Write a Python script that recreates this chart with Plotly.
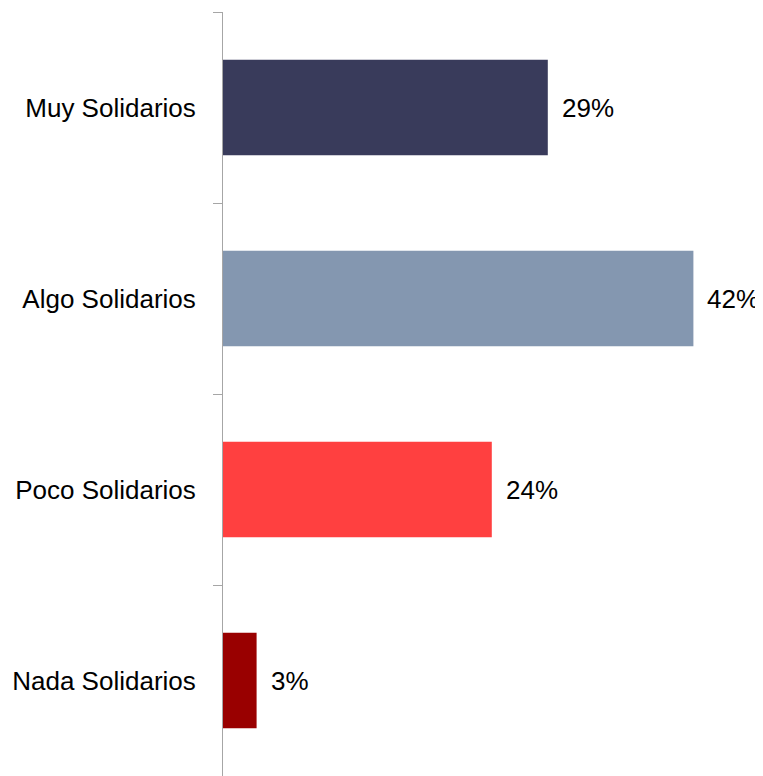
import plotly.graph_objects as go

categories = ["Muy Solidarios", "Algo Solidarios", "Poco Solidarios", "Nada Solidarios"]
values = [29, 42, 24, 3]
labels = ["29%", "42%", "24%", "3%"]
colors = ["#393B5B", "#8497B0", "#FF4040", "#990000"]

FONT = "Liberation Sans Narrow, Arial Narrow, Liberation Sans, Arial, sans-serif"
SIZE = 26

fig = go.Figure()
fig.add_trace(go.Bar(
    y=categories, x=values, orientation="h",
    marker=dict(color=colors, line=dict(width=0)),
    width=0.5, showlegend=False, hoverinfo="skip",
))
for c, v, t in zip(categories, values, labels):
    fig.add_annotation(x=v, y=c, text=t, showarrow=False, xanchor="left",
                       xshift=12, font=dict(family=FONT, size=SIZE, color="#000000"))

# page body has an 8px default margin, so the figure is sized to compensate
fig.update_layout(
    width=755, height=768,
    margin=dict(l=215, r=0, t=4, b=0),
    paper_bgcolor="white", plot_bgcolor="white",
    font=dict(family=FONT, size=SIZE, color="#000000"),
    bargap=0.5,
)
fig.update_xaxes(range=[0, 540 / 11.2], visible=False, showgrid=False,
                 zeroline=False, automargin=False)
fig.update_yaxes(
    autorange="reversed", showline=True, linecolor="#A6A6A6", linewidth=1,
    ticks="outside", tickson="boundaries", ticklen=9, tickcolor="#A6A6A6",
    showgrid=False, ticklabelstandoff=21, automargin=False,
    tickfont=dict(family=FONT, size=SIZE, color="#000000"),
)
fig.write_html("out.html")
